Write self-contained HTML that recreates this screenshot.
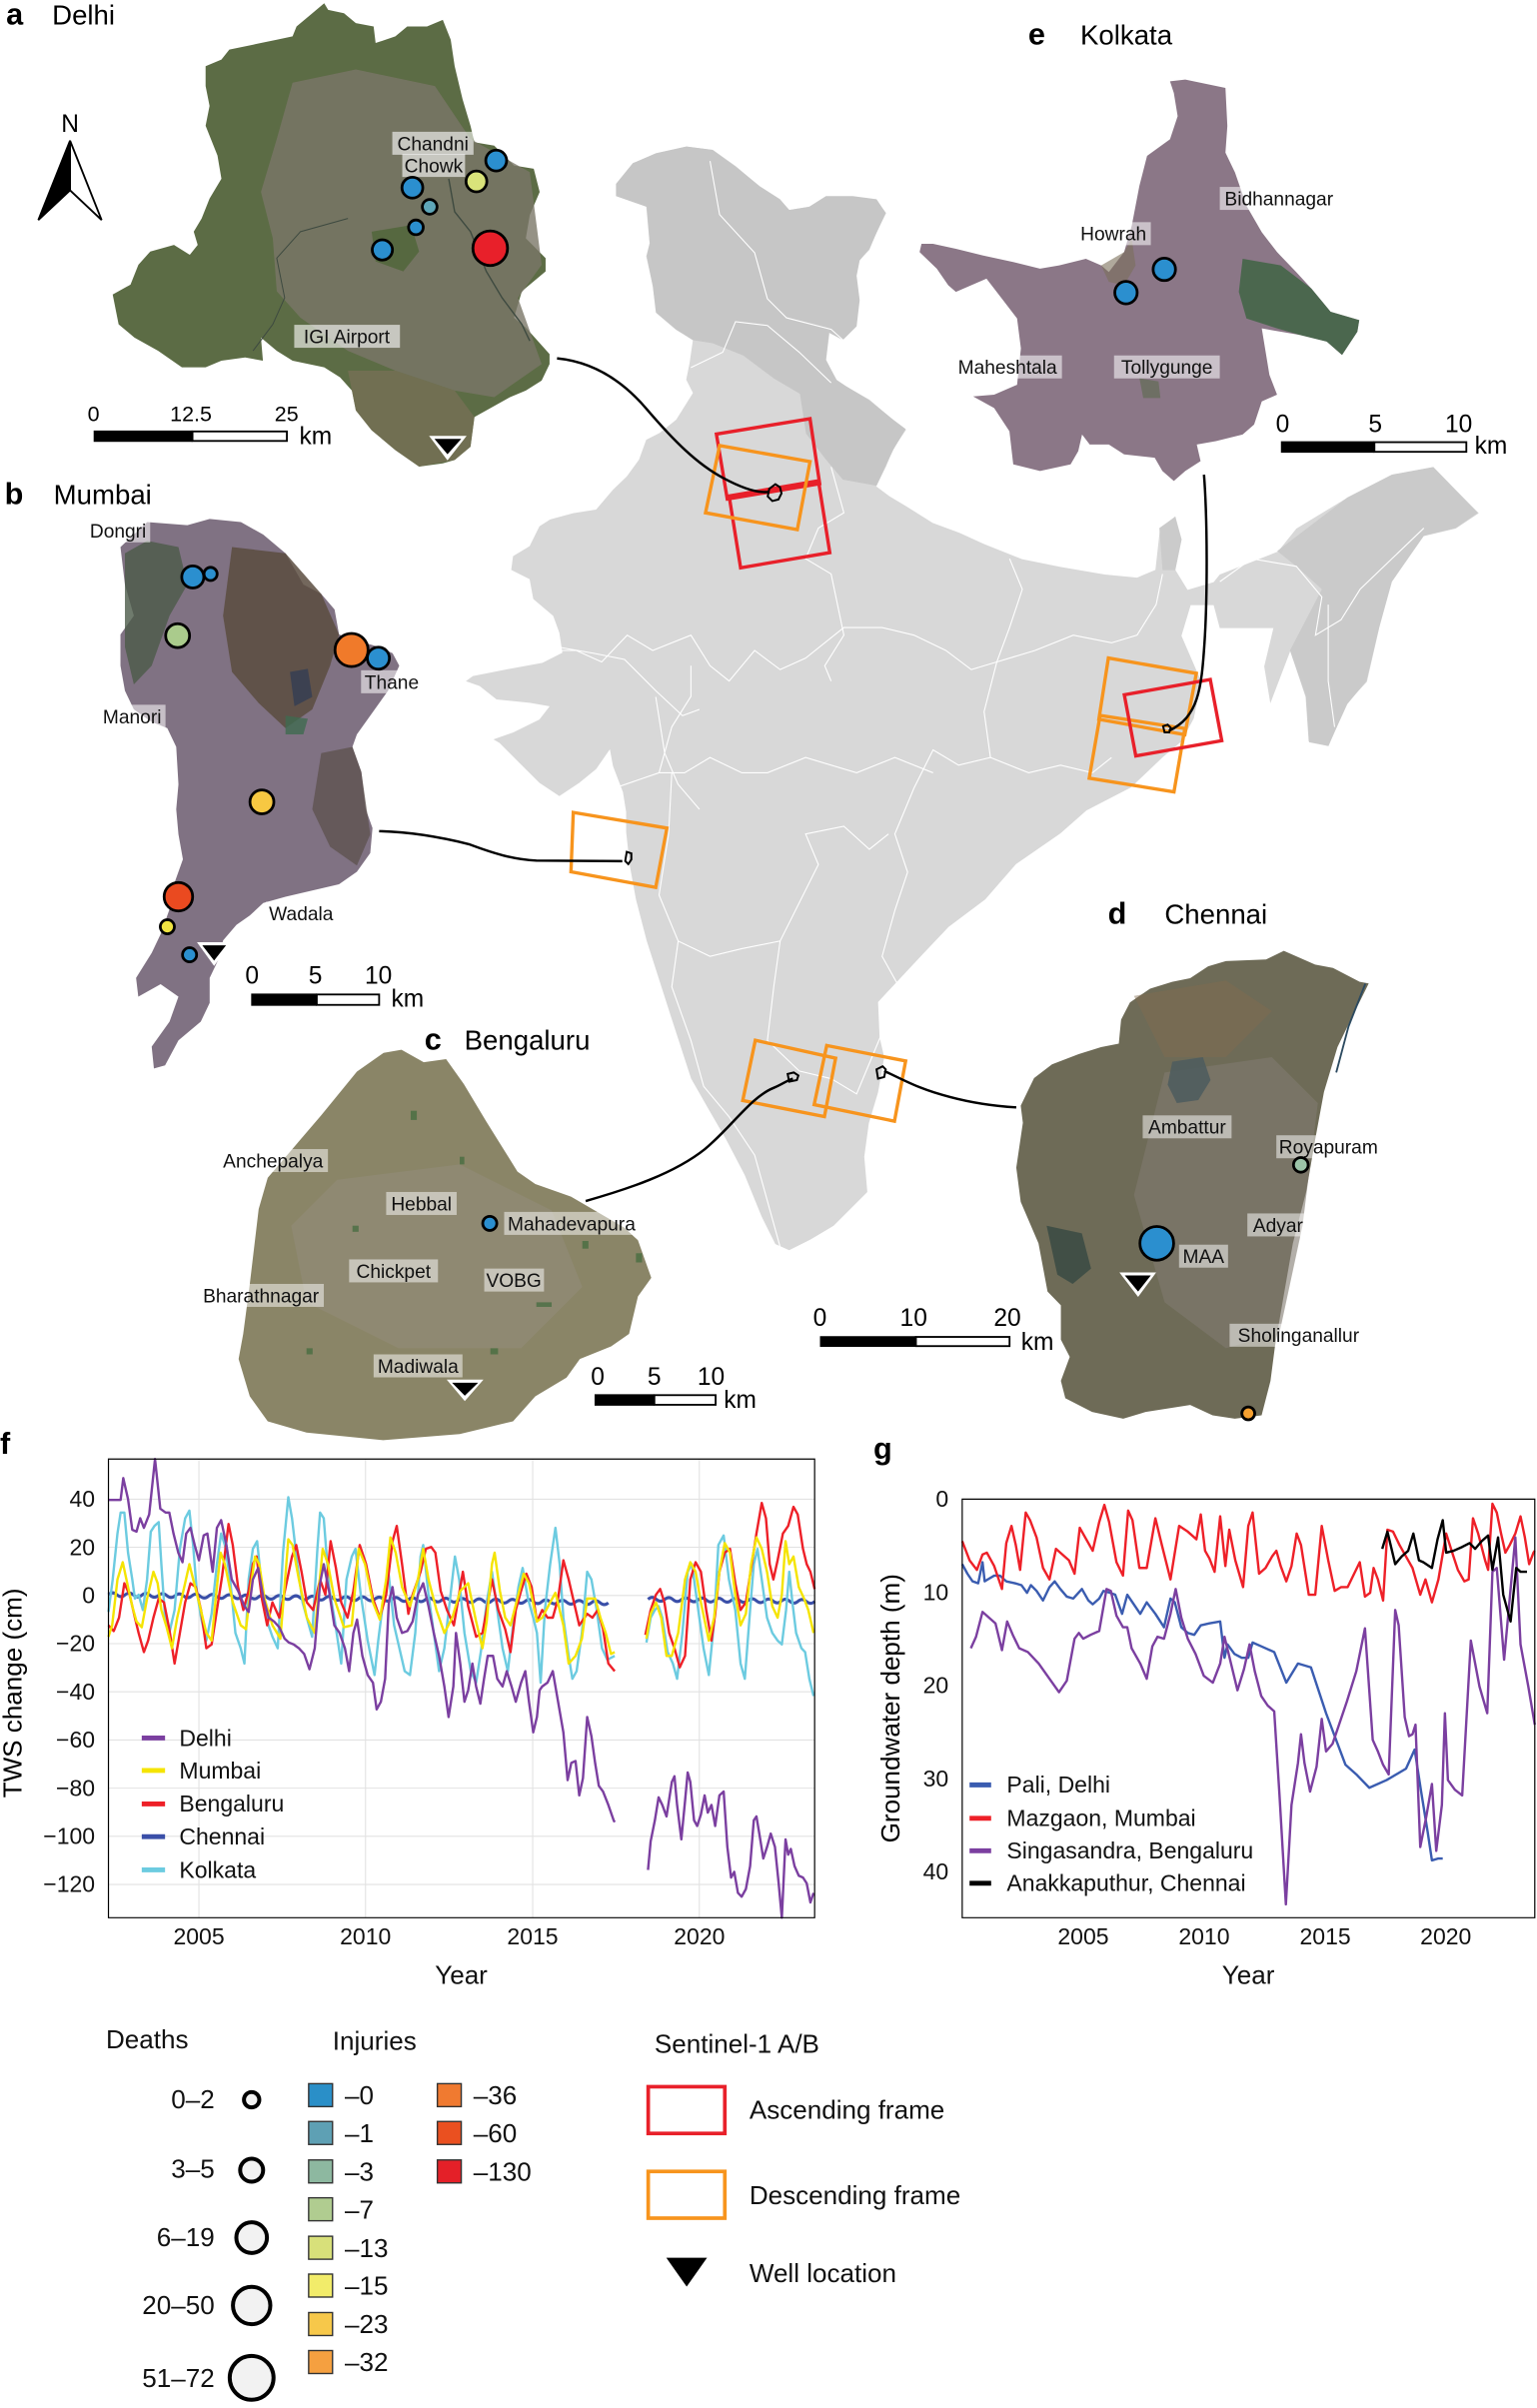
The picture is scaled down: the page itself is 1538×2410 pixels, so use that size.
<!DOCTYPE html>
<html><head><meta charset="utf-8"><style>html,body{margin:0;padding:0;background:#fff}svg{display:block}</style></head>
<body>
<svg xmlns="http://www.w3.org/2000/svg" width="1538" height="2410" viewBox="0 0 1003 1571.7" font-family="Liberation Sans, Arial, sans-serif">
<rect x="0" y="0" width="1003" height="1571.7" fill="#fff"/>

<!-- ================= INDIA ================= -->
<polygon fill="#d8d8d8" points="402,120 413,106.5 428.3,100 447.8,95.6 465.2,97.8 480.4,108.7 495.7,121.7 508.7,130.4 515.2,137 528.3,134.8 539.1,128.2 556.5,128.2 571.8,130.4 578.3,139.1 571.8,152.2 567.4,163 560.9,169.6 558.7,180.4 560.9,195.6 558.7,213 550,221.7 541.3,217.4 539.1,234.8 545.7,247.8 552.2,252.2 567.4,260.9 582.6,273.9 591.3,280.4 582.6,293.5 578.3,304.3 571.8,317.4 580.4,323.9 591.3,330.4 608.7,341.3 626.1,347.8 642,355 667,365 692,370 721,375 742,377 754,372 757,345 767,337 771,352 767,372 775,385 792,380 796,375 834,360 846,345 879,325 908,310 935,305 965,335 950,345 929,350 908,380 900,410 892,445 879,459 867,487 854,484 852,455 842,425 829,459 825,435 831,410 815,410 796,410 792,395 777,395 771,415 784,445 779,469 771,484 759,494 738,514 709,529 692,544 663,564 643,587 619,605 602,623 587,639 573,654 574,677 577,690 573,713 567,733 564,755 566,778 555,789 544,800 529,809 515,816 506,812 497,794 486,767 474,744 463,725 451,704 438,664 422,614 415,587 411,565 408.6,543 408.6,530 406.5,517 400,500 398,489 389,502 378,511 365,519.6 352,511 339,498 326,485 322,482.6 335,478 352,469.6 358.7,461 345.6,458.7 324,456.5 313,447.8 304,444.6 308.6,441.3 330,437 354,432.6 367,426 365,413 361,402 348,391 345.6,378 333.6,372 334.8,363 345.6,356.5 352,343.5 359,339 374,335 389,332.6 400,319.6 409,311 417,300 421.7,287 430.4,282.6 441.3,273.9 452.2,256.5 447.8,247.8 450,237 452.2,221.7 441.3,215.4 428.3,204.3 426.1,187 421.7,167.4 423.9,158.7 421.7,134.8 402,128"/>
<!-- hillshade darker areas -->
<polygon fill="#c6c6c6" points="402,120 413,106.5 428,100 448,95.6 465,97.8 480,108.7 496,121.7 509,130 515,137 528,135 539,128 556.5,128 572,130 578,139 572,152 567,163 561,170 559,180 561,196 559,213 550,222 541,217 539,235 546,248 552,252 567,261 583,274 591,280 583,293.5 578,304 572,317 550,313 539,300 526,283 522,257 505,247 485,232 465,224 452,222 441,215 428,204 426,187 422,167 424,159 422,135 402,128"/>
<g transform="translate(326.1,65.2) scale(0.4159,0.4991)">
<polygon fill="#cacaca" points="1220,590 1330,520 1400,490 1465,480 1535,540 1500,560 1450,570 1400,630 1380,690 1360,760 1330,790 1300,845 1270,840 1265,780 1240,720 1290,640 1250,610"/>
<polygon fill="#cbcbcb" points="1035,560 1060,545 1070,575 1060,615 1040,615"/>
<g fill="none" stroke="#fff" stroke-width="1.1">
<polyline vector-effect="non-scaling-stroke" points="330,80 345,150 400,200 420,260 450,285 520,300 560,330"/>
<polyline vector-effect="non-scaling-stroke" points="300,350 350,330 370,290 420,295 470,330 520,370"/>
<polyline vector-effect="non-scaling-stroke" points="520,480 540,540 500,560 480,600 520,620 540,700 510,740 520,760"/>
<polyline vector-effect="non-scaling-stroke" points="0,745 60,720 120,720 160,735 200,700 240,720 300,700 330,740 360,760 400,720 440,745 480,730 540,690 600,690 650,700 700,720 740,745 780,735 800,690 820,640 800,600"/>
<polyline vector-effect="non-scaling-stroke" points="780,735 760,800 770,860 720,870 680,850 650,900 620,960 640,1010 620,1060 600,1120 640,1180 640,1250"/>
<polyline vector-effect="non-scaling-stroke" points="110,920 180,900 250,880 270,820 300,780 300,740"/>
<polyline vector-effect="non-scaling-stroke" points="250,880 290,880 330,860 380,880 420,880 480,860 560,880 620,860 680,880"/>
<polyline vector-effect="non-scaling-stroke" points="780,735 840,720 900,700 960,710 1000,700 1030,660 1040,620"/>
<polyline vector-effect="non-scaling-stroke" points="770,860 830,880 880,870 930,880 960,860"/>
<polyline vector-effect="non-scaling-stroke" points="270,880 265,960 250,1040 280,1100 330,1120 380,1110 440,1100 470,1050 500,1000 480,960 540,950 580,980 610,960"/>
<polyline vector-effect="non-scaling-stroke" points="280,1100 270,1160 300,1230 320,1290 360,1330 400,1380 420,1440 440,1500"/>
<polyline vector-effect="non-scaling-stroke" points="440,1100 430,1160 420,1230 470,1270 520,1280 560,1300 580,1260 600,1220"/>
<polyline vector-effect="non-scaling-stroke" points="1130,630 1180,600 1250,610 1290,650 1280,700 1320,680 1350,640 1400,600 1450,560"/>
<polyline vector-effect="non-scaling-stroke" points="1300,660 1300,760 1310,820"/>
</g>
</g>
<g transform="translate(0,300) scale(0.2911,0.4076)" fill="none" stroke="#fff" stroke-width="1.1">
<polyline vector-effect="non-scaling-stroke" points="1150,300 1250,300 1330,310 1400,320 1470,370 1530,410 1568,400"/>
<polyline vector-effect="non-scaling-stroke" points="1470,380 1490,470 1520,520 1568,560"/>
</g>

<!-- Sentinel frames -->
<g fill="none" stroke-width="2.2">
<polygon stroke="#e8202a" points="467.5,283.3 528.6,273.3 534.9,315.7 474.6,325.7"/>
<polygon stroke="#e8202a" points="475.8,323.7 534.1,313.8 541.5,360.7 483.3,370.6"/>
<polygon stroke="#f7941d" points="469.6,290.8 528.6,301.3 520.3,345.7 460.4,334.7"/>
<polygon stroke="#f7941d" points="374.1,530.3 435.2,540.5 427.9,579.2 372.6,569"/>
<polygon stroke="#f7941d" points="723.3,429.5 780.7,439.5 773.2,479.5 717.1,469.5"/>
<polygon stroke="#f7941d" points="717.9,467 773.2,475.5 766.1,516.9 710.8,507.9"/>
<polygon stroke="#e8202a" points="733.7,453.5 789.8,443.5 797.3,483.4 741.2,493.4"/>
<polygon stroke="#f7941d" points="492.9,679 545.3,690.7 538,728.8 484.7,718.3"/>
<polygon stroke="#f7941d" points="539.5,682.4 591,692.5 583.7,731.8 531.3,721"/>
</g>
<!-- tiny city outlines -->
<g fill="none" stroke="#000" stroke-width="1.3">
<path d="M502,319 l4,-3 3,2 1,4 -2,4 -4,1 -3,-3z"/>
<path d="M409,556 l3,1 0,4 -2,3 -2,-2z"/>
<path d="M759,474 l3,-1 2,2 -1,3 -3,0z"/>
<path d="M514,701 l4,-1 3,2 -1,3 -5,1z"/>
<path d="M572,698 l4,-2 2,2 -1,5 -4,1z"/>
</g>
<!-- connectors -->
<g fill="none" stroke="#000" stroke-width="1.6">
<path d="M363.5,233.9 C385,236 405,247 422,267 C440,288 455,303 472,312 C485,319 495,322 502,321"/>
<path d="M785.7,309.8 C788,340 788,390 786,420 C784,450 782,468 762.8,477"/>
<path d="M247.4,542.5 C270,543 290,547 306,551 C322,557 335,561 350,561.7 L406.1,562.1"/>
<path d="M382.2,783.9 C410,776 440,766 460,750 C478,735 490,716 505,710 C510,708 514,705 517.4,704"/>
<path d="M577,699 C590,705 600,711 620,716 C635,720 650,722 663.2,722.8"/>
</g>

<!-- ================= DELHI ================= -->
<g transform="scale(0.258,0.216)">
<polygon fill="#5c6c45" points="820,10 830,30 870,40 900,70 945,80 950,130 1000,110 1030,80 1080,80 1120,60 1140,120 1150,200 1170,300 1190,380 1200,430 1250,440 1300,500 1350,510 1365,580 1340,650 1330,720 1380,780 1380,820 1320,880 1300,960 1330,990 1390,1070 1390,1100 1370,1150 1330,1180 1290,1200 1200,1260 1190,1350 1150,1390 1120,1400 1060,1410 1000,1360 940,1300 900,1240 890,1180 860,1140 820,1110 740,1090 700,1060 660,1020 665,1090 620,1080 560,1090 520,1110 460,1110 400,1060 340,1020 300,980 285,890 330,860 350,800 380,760 440,740 480,770 500,740 490,700 510,660 530,600 560,540 550,470 520,380 530,320 520,260 520,200 560,180 580,150 620,140 660,130 700,120 740,110 750,80 790,40"/>
<polygon fill="#7b7768" opacity="0.8" points="740,250 900,210 1100,260 1190,420 1340,520 1370,800 1310,900 1370,1100 1250,1200 1150,1180 1000,1120 880,1060 760,960 700,880 690,720 660,580 700,420"/>
<polygon fill="#777055" opacity="0.8" points="880,1120 1000,1120 1150,1180 1200,1260 1190,1350 1150,1390 1060,1410 1000,1360 940,1300 900,1240"/>
<polygon fill="#4f6538" opacity="0.8" points="940,700 1040,680 1060,760 1020,820 950,790"/>
<polyline fill="none" stroke="#3e4a40" stroke-width="1.4" vector-effect="non-scaling-stroke" points="1135,540 1150,640 1190,700 1230,820 1270,900 1320,980 1340,1030"/>
<polyline fill="none" stroke="#3e4a40" stroke-width="1" vector-effect="non-scaling-stroke" points="640,1060 690,980 720,900 700,780 760,700 880,660"/>
</g>
<!-- Delhi labels -->
<g font-size="12.5" text-anchor="middle" fill="#111">
<rect x="256" y="86" width="53" height="15" fill="#fff" opacity="0.6"/><text x="282.5" y="98">Chandni</text>
<rect x="262.5" y="100.5" width="41" height="15" fill="#fff" opacity="0.6"/><text x="283" y="112.5">Chowk</text>
<rect x="192" y="212" width="69" height="15" fill="#fff" opacity="0.6"/><text x="226.3" y="224">IGI Airport</text>
</g>
<g stroke="#000" stroke-width="1.8">
<circle cx="323.8" cy="104.8" r="6.8" fill="#2b8fcf"/>
<circle cx="310.9" cy="118.4" r="6.8" fill="#d9e37a"/>
<circle cx="269.1" cy="122.5" r="6.8" fill="#2b8fcf"/>
<circle cx="280.4" cy="135" r="4.8" fill="#5ea6b8"/>
<circle cx="271.4" cy="148.4" r="4.8" fill="#2b8fcf"/>
<circle cx="249.5" cy="163.1" r="6.6" fill="#2b8fcf"/>
<circle cx="319.9" cy="162" r="11.3" fill="#e8202a"/>
</g>
<polygon points="280,284.5 304.5,284.5 292,300.5" fill="#fff"/>
<polygon points="283.5,286.5 301,286.5 292,296.5" fill="#000"/>
<!-- north arrow -->
<text x="45.7" y="86" font-size="16" text-anchor="middle">N</text>
<polygon points="45.7,91.8 25,143.6 45.7,124.2" fill="#000" stroke="#000" stroke-width="1.2"/>
<polygon points="45.7,91.8 66.3,143.6 45.7,124.2" fill="#fff" stroke="#000" stroke-width="1.2"/>
<!-- Delhi scale -->
<g font-size="14" text-anchor="middle">
<text x="61" y="275">0</text><text x="124.6" y="275">12.5</text><text x="187" y="275">25</text>
<text x="206" y="290" text-anchor="middle" font-size="16">km</text>
</g>
<rect x="61.1" y="281" width="64.5" height="7.4" fill="#000"/>
<rect x="125.6" y="281.6" width="61.6" height="6.2" fill="#fff" stroke="#000" stroke-width="1.2"/>
<text x="4" y="16" font-size="20" font-weight="bold">a</text>
<text x="34" y="16" font-size="18">Delhi</text>

<!-- ================= KOLKATA ================= -->
<g transform="translate(573.9,0) scale(0.2495,0.2165)">
<polygon fill="#8b7787" points="760,245 800,240 905,265 910,380 905,460 930,520 960,620 1000,700 1040,760 1090,820 1130,870 1180,940 1255,965 1250,1000 1210,1070 1170,1030 1100,1010 1050,1000 1000,990 1010,1060 1020,1130 1040,1190 1000,1210 980,1280 950,1310 880,1330 830,1340 840,1390 800,1420 770,1450 740,1420 720,1380 640,1370 600,1340 550,1340 530,1310 520,1360 500,1400 420,1420 350,1400 340,1300 300,1230 245,1195 300,1190 360,1160 370,1050 360,960 320,900 280,840 200,880 180,860 150,810 105,760 110,735 140,735 200,750 270,770 350,790 420,810 470,800 540,780 580,800 600,820 640,760 660,680 680,560 700,470 760,420 780,350 770,280"/>
<polygon fill="#3f6444" opacity="0.85" points="950,780 1050,800 1130,870 1180,940 1255,965 1250,1000 1210,1070 1170,1030 1100,1010 1040,990 960,960 940,880"/>
<polygon fill="#7c705a" opacity="0.6" points="580,800 640,760 660,720 670,800 640,860 600,850"/>
<polygon fill="#5b6b4c" opacity="0.6" points="680,1140 730,1150 735,1200 690,1200"/>
</g>
<g font-size="12.5" text-anchor="middle" fill="#111">
<rect x="796" y="122" width="77" height="15" fill="#fff" opacity="0.55"/><text x="834.6" y="134">Bidhannagar</text>
<rect x="703" y="145" width="48" height="15" fill="#fff" opacity="0.55"/><text x="726.6" y="157">Howrah</text>
<rect x="622" y="232" width="71" height="15" fill="#fff" opacity="0.55"/><text x="657.5" y="244">Maheshtala</text>
<rect x="727" y="232" width="69" height="15" fill="#fff" opacity="0.55"/><text x="761.5" y="244">Tollygunge</text>
</g>
<g stroke="#000" stroke-width="1.8" fill="#2b8fcf">
<circle cx="759.8" cy="175.8" r="7.3"/>
<circle cx="734.8" cy="191" r="7.3"/>
</g>
<g font-size="16" text-anchor="middle">
<text x="837" y="282">0</text><text x="897.5" y="282">5</text><text x="951.9" y="282">10</text>
<text x="973" y="296">km</text>
</g>
<rect x="835.9" y="288" width="61" height="7.5" fill="#000"/>
<rect x="896.9" y="288.6" width="60" height="6.3" fill="#fff" stroke="#000" stroke-width="1.2"/>
<text x="671" y="29" font-size="20" font-weight="bold">e</text>
<text x="705" y="29" font-size="18">Kolkata</text>

<!-- ================= MUMBAI ================= -->
<g transform="translate(0,300) scale(0.2911,0.4076)">
<polygon fill="#807283" points="330,100 420,105 470,95 540,100 590,120 640,150 680,200 720,215 750,240 760,280 800,290 850,300 880,310 895,330 870,370 840,400 800,440 790,460 810,500 820,560 835,590 830,630 800,660 760,680 700,690 640,700 590,710 560,730 530,745 500,770 490,800 470,830 470,870 450,900 400,930 370,970 345,975 340,940 380,900 400,860 360,840 310,860 305,830 340,790 360,760 380,720 390,680 410,640 400,600 395,560 400,520 395,460 375,430 340,420 300,400 280,370 270,330 270,280 300,250 280,200 270,140 300,120"/>
<polygon fill="#5a4c40" opacity="0.85" points="520,140 640,150 720,215 760,280 740,330 700,400 640,430 580,390 520,340 500,250"/>
<polygon fill="#4b5a48" opacity="0.8" points="280,150 330,130 400,140 420,200 380,250 340,330 300,360 280,300"/>
<polygon fill="#2e3a55" opacity="0.7" points="650,340 690,335 700,380 660,395"/>
<polygon fill="#5a4e48" opacity="0.7" points="720,470 790,460 810,500 830,600 800,650 740,620 700,560"/>
<polygon fill="#3f6a50" opacity="0.8" points="640,410 690,415 680,440 640,440"/>
</g>
<g font-size="12.5" text-anchor="middle" fill="#111">
<rect x="56" y="339" width="42" height="15" fill="#fff" opacity="0.55"/><text x="77" y="351">Dongri</text>
<rect x="235.6" y="437.5" width="40" height="15" fill="#fff" opacity="0.55"/><text x="255.6" y="449.5">Thane</text>
<rect x="64" y="460" width="44" height="15" fill="#fff" opacity="0.55"/><text x="86.2" y="472">Manori</text>
<rect x="173.5" y="588.5" width="46" height="15" fill="#fff" opacity="0.55"/><text x="196.5" y="600.5">Wadala</text>
</g>
<g stroke="#000" stroke-width="1.8">
<circle cx="125.8" cy="376.6" r="7.2" fill="#2b8fcf"/>
<circle cx="137.4" cy="374.6" r="4.3" fill="#2b8fcf"/>
<circle cx="115.9" cy="414.9" r="7.8" fill="#aacb8c"/>
<circle cx="229.4" cy="424.3" r="10.8" fill="#f07a2a"/>
<circle cx="246.9" cy="429.6" r="7.2" fill="#2b8fcf"/>
<circle cx="170.9" cy="523.4" r="7.8" fill="#f7c842"/>
<circle cx="116.4" cy="585.3" r="9.3" fill="#ea4a20"/>
<circle cx="109.2" cy="604.9" r="4.6" fill="#f0e442"/>
<circle cx="123.7" cy="623.2" r="4.6" fill="#2b8fcf"/>
</g>
<polygon points="128.5,615 151,615 139.7,630.5" fill="#fff"/>
<polygon points="132,617 147.5,617 139.7,627" fill="#000"/>
<g font-size="16" text-anchor="middle">
<text x="164.5" y="642">0</text><text x="205.8" y="642">5</text><text x="246.9" y="642">10</text>
<text x="266" y="657">km</text>
</g>
<rect x="163.9" y="648.5" width="42.8" height="8" fill="#000"/>
<rect x="206.7" y="649.1" width="40.7" height="6.8" fill="#fff" stroke="#000" stroke-width="1.2"/>
<text x="3" y="329" font-size="20" font-weight="bold">b</text>
<text x="35" y="329" font-size="18">Mumbai</text>

<!-- ================= BENGALURU ================= -->
<polygon fill="#8a8567" points="250.3,687.2 262,685.2 276.5,693.3 291.1,691.3 302.7,707.6 317.3,732 337.7,764.7 349.3,772.8 372.6,781 407.5,801.3 416.3,809.5 425,834 416.3,846.2 410.5,870.6 398.8,878.8 378.4,887 369.7,899.2 349.3,911.4 334.8,927.7 300,936 250,940 200,935 174.7,927.7 163,911.4 155.7,887 158.7,870.6 163,838 165.9,813.6 168.8,789.1 174.7,768.7 192.1,748.4 209.6,728 232.9,699.4"/>
<polygon fill="#9a958a" opacity="0.3" points="220,770 300,760 360,790 380,840 340,880 260,880 200,850 190,800"/>
<g fill="#3f6a3c" opacity="0.7">
<rect x="268" y="725" width="4" height="6"/><rect x="300" y="755" width="3" height="5"/><rect x="230" y="800" width="4" height="4"/><rect x="350" y="850" width="10" height="3"/><rect x="380" y="810" width="4" height="5"/><rect x="320" y="880" width="5" height="4"/><rect x="200" y="880" width="4" height="4"/><rect x="415" y="818" width="4" height="6"/>
</g>
<g font-size="12.5" text-anchor="middle" fill="#111">
<rect x="142" y="750" width="72" height="15" fill="#fff" opacity="0.5"/><text x="178.2" y="762">Anchepalya</text>
<rect x="252" y="778" width="46" height="15" fill="#fff" opacity="0.5"/><text x="275" y="790">Hebbal</text>
<rect x="329" y="791" width="88" height="15" fill="#fff" opacity="0.5"/><text x="373" y="803">Mahadevapura</text>
<rect x="227.8" y="822" width="58" height="15" fill="#fff" opacity="0.5"/><text x="256.8" y="834">Chickpet</text>
<rect x="316" y="828" width="39" height="15" fill="#fff" opacity="0.5"/><text x="335.3" y="840">VOBG</text>
<rect x="129.3" y="838" width="82" height="15" fill="#fff" opacity="0.5"/><text x="170.3" y="850">Bharathnagar</text>
<rect x="243.8" y="884" width="58" height="15" fill="#fff" opacity="0.5"/><text x="272.8" y="896">Madiwala</text>
</g>
<circle cx="319.6" cy="798.5" r="4.6" fill="#2b8fcf" stroke="#000" stroke-width="1.8"/>
<polygon points="291.5,900.5 315.5,900.5 303.3,914.5" fill="#fff"/>
<polygon points="295,902.5 312,902.5 303.3,911" fill="#000"/>
<g font-size="16" text-anchor="middle">
<text x="390" y="904">0</text><text x="427" y="904">5</text><text x="464" y="904">10</text>
<text x="483" y="919">km</text>
</g>
<rect x="388" y="910" width="39" height="7.5" fill="#000"/>
<rect x="427" y="910.6" width="40" height="6.3" fill="#fff" stroke="#000" stroke-width="1.2"/>
<text x="277" y="685" font-size="20" font-weight="bold">c</text>
<text x="303" y="685" font-size="18">Bengaluru</text>

<!-- ================= CHENNAI ================= -->
<polygon fill="#6e6b57" points="800,627.3 826.2,626.2 837.8,620.6 858.2,629.6 869.9,631.8 887.3,640.8 893.2,641.9 881.5,665.5 872.8,683.5 864,712.7 858.2,744.1 852.4,777.8 843.7,811.5 837.8,845.2 832,878.9 829.1,901.3 823.3,923.8 805.8,926 791.3,923.8 776.7,917 747.6,921.6 733,926 712.7,921.6 695.2,912.6 692.3,901.3 698.1,885.6 692.3,874.4 692.3,852 683.6,843 677.7,811.5 671.9,798 666.1,784.5 663.2,762.1 667.5,732.9 666.1,721.7 674.8,703.7 686.5,694.7 703.9,688 718.5,683.5 730.1,681.2 731.6,665.5 737.4,654.3 750.5,645.3 765,640.8 776.7,638.5 788.4,630.7"/>
<polygon fill="#807a70" opacity="0.6" points="760,700 830,690 860,720 850,800 835,870 800,880 760,850 740,780"/>
<polygon fill="#826c50" opacity="0.45" points="740,650 800,640 830,660 800,690 760,690"/>
<polygon fill="#4f5d5e" opacity="0.9" points="765,693 785,690 790,705 782,718 768,720 762,708"/>
<polygon fill="#3c4d45" opacity="0.9" points="683,800 706,805 712,828 700,838 690,832"/>
<polyline fill="none" stroke="#2c4a60" stroke-width="1.2" points="891,642 880,670 872,700"/>
<g font-size="12.5" text-anchor="middle" fill="#111">
<rect x="745.7" y="728" width="58" height="15" fill="#fff" opacity="0.5"/><text x="774.7" y="740">Ambattur</text>
<rect x="832.9" y="741" width="68" height="15" fill="#fff" opacity="0.5"/><text x="866.9" y="753">Royapuram</text>
<rect x="814" y="792" width="40" height="15" fill="#fff" opacity="0.5"/><text x="834" y="804">Adyar</text>
<rect x="769.4" y="812.4" width="32" height="15" fill="#fff" opacity="0.5"/><text x="785.4" y="824.4">MAA</text>
<rect x="802.4" y="864" width="90" height="15" fill="#fff" opacity="0.5"/><text x="847.4" y="876">Sholinganallur</text>
</g>
<g stroke="#000" stroke-width="1.8">
<circle cx="848.9" cy="760.3" r="4.8" fill="#9cc4a8"/>
<circle cx="754.9" cy="811.5" r="11" fill="#2b8fcf"/>
<circle cx="814.6" cy="922.5" r="4.2" fill="#f5a030"/>
</g>
<polygon points="730.5,830.5 754.5,830.5 742.7,846.5" fill="#fff"/>
<polygon points="734,832.5 751,832.5 742.7,843" fill="#000"/>
<g font-size="16" text-anchor="middle">
<text x="535.1" y="865.5">0</text><text x="596.2" y="865.5">10</text><text x="657.4" y="865.5">20</text>
<text x="677" y="881">km</text>
</g>
<rect x="535.1" y="872.1" width="62.6" height="7" fill="#000"/>
<rect x="597.7" y="872.6" width="61.1" height="6" fill="#fff" stroke="#000" stroke-width="1.2"/>
<text x="723" y="603" font-size="20" font-weight="bold">d</text>
<text x="760" y="603" font-size="18">Chennai</text>

<!-- ================= CHART f ================= -->
<text x="0" y="949" font-size="20" font-weight="bold">f</text>
<g transform="translate(0,926.1) scale(0.3452,0.2495)">
<g stroke="#e2e2e2" stroke-width="1.1" fill="none">
<path vector-effect="non-scaling-stroke" d="M205,210H1540M205,336H1540M205,462H1540M205,588H1540M205,714H1540M205,840H1540M205,966H1540M205,1092H1540M205,1218H1540M376,105V1305M691,105V1305M1007,105V1305M1322,105V1305"/>
</g>
<g fill="none" stroke-width="2.4" stroke-linejoin="round">
<path vector-effect="non-scaling-stroke" stroke="#3a4fa8" stroke-width="3" d="M205,460 q7.9,-10 15.75,0 t15.75,0.36 t15.75,0.36 t15.75,0.36 t15.75,0.36 t15.75,0.36 t15.75,0.36 t15.75,0.36 t15.75,0.36 t15.75,0.36 t15.75,0.36 t15.75,0.36 t15.75,0.36 t15.75,0.36 t15.75,0.36 t15.75,0.36 t15.75,0.36 t15.75,0.36 t15.75,0.36 t15.75,0.36 t15.75,0.36 t15.75,0.36 t15.75,0.36 t15.75,0.36 t15.75,0.36 t15.75,0.36 t15.75,0.36 t15.75,0.36 t15.75,0.36 t15.75,0.36 t15.75,0.36 t15.75,0.36 t15.75,0.36 t15.75,0.36 t15.75,0.36 t15.75,0.36 t15.75,0.36 t15.75,0.36 t15.75,0.36 t15.75,0.36 t15.75,0.36 t15.75,0.36 t15.75,0.36 t15.75,0.36 t15.75,0.36 t15.75,0.36 t15.75,0.36 t15.75,0.36 t15.75,0.36 t15.75,0.36 t15.75,0.36 t15.75,0.36 t15.75,0.36 t15.75,0.36 t15.75,0.36 t15.75,0.36 t15.75,0.36 t15.75,0.36 t15.75,0.36 t15.75,0.36 M1225,472 q7.9,-10 15.75,0 t15.75,0.3 t15.75,0.3 t15.75,0.3 t15.75,0.3 t15.75,0.3 t15.75,0.3 t15.75,0.3 t15.75,0.3 t15.75,0.3 t15.75,0.3 t15.75,0.3 t15.75,0.3 t15.75,0.3 t15.75,0.3 t15.75,0.3 t15.75,0.3 t15.75,0.3 t15.75,0.3 t15.75,0.3"/>
<polyline vector-effect="non-scaling-stroke" stroke="#6ccbe0" points="205,505 213,420 222,300 228,245 235,245 242,350 250,420 255,470 262,460 270,500 278,420 285,295 292,280 300,270 305,380 312,520 320,560 330,500 340,340 350,260 358,240 365,330 372,450 380,520 390,580 400,510 410,380 418,300 425,330 435,420 445,560 455,600 462,640 470,420 478,340 486,320 495,440 505,530 515,570 525,600 535,350 545,205 552,260 562,380 572,480 580,520 590,570 600,340 605,245 612,260 622,440 632,520 645,640 655,420 665,360 672,340 682,460 695,580 708,670 715,580 725,470 735,410 745,540 755,600 765,660 775,670 785,560 795,360 800,330 810,460 820,560 830,660 840,600 850,480 860,360 868,420 878,560 890,660 900,690 910,600 920,480 930,400 940,500 950,600 960,660 970,540 980,440 988,390 998,470 1008,520 1015,560 1022,690 1030,500 1040,380 1050,285 1058,380 1065,520 1075,620 1082,680 1090,660 1100,560 1110,400 1118,420 1128,500 1138,600 1148,630 1155,625 1162,620"/>
<polyline vector-effect="non-scaling-stroke" stroke="#6ccbe0" points="1222,585 1230,520 1238,500 1245,490 1252,520 1262,610 1272,640 1280,680 1290,560 1300,400 1308,380 1320,500 1330,600 1340,670 1350,530 1358,330 1368,305 1378,420 1390,500 1400,640 1408,680 1418,500 1425,380 1432,340 1440,420 1450,520 1460,560 1470,580 1478,590 1486,500 1492,400 1498,480 1505,560 1515,600 1522,610 1530,680 1538,725"/>
<polyline vector-effect="non-scaling-stroke" stroke="#ee2028" points="205,540 215,555 225,520 235,430 245,460 255,520 262,560 272,610 280,580 290,520 300,470 310,480 320,550 330,640 340,560 350,480 360,430 370,440 380,500 390,600 400,590 410,500 420,410 432,275 440,330 450,440 460,500 470,450 478,380 485,360 495,470 505,540 515,480 528,520 540,440 552,360 560,330 570,400 580,480 592,500 605,420 615,460 625,320 635,390 645,480 657,520 668,450 680,330 692,380 705,470 718,520 730,460 742,320 750,280 760,380 772,510 780,460 795,400 805,340 815,335 823,350 833,450 845,500 858,540 870,440 875,400 885,490 900,570 912,560 920,500 930,420 942,500 955,550 965,610 975,500 985,450 995,405 1005,440 1015,530 1025,500 1035,520 1045,520 1055,470 1065,370 1075,420 1085,480 1095,540 1110,510 1120,520 1130,500 1140,550 1150,640 1162,660"/>
<polyline vector-effect="non-scaling-stroke" stroke="#ee2028" points="1220,565 1230,500 1240,460 1248,445 1256,480 1265,560 1275,600 1285,650 1295,620 1305,420 1315,375 1325,400 1335,500 1345,580 1352,510 1360,400 1370,350 1380,340 1390,430 1400,500 1410,480 1420,390 1430,300 1440,220 1448,260 1455,380 1462,420 1470,370 1480,300 1490,280 1500,230 1508,250 1518,340 1525,380 1532,400 1540,445"/>
<polyline vector-effect="non-scaling-stroke" stroke="#f5e400" points="205,570 212,540 222,420 232,375 242,440 250,490 258,530 268,545 278,470 290,400 298,430 305,500 315,545 325,600 335,520 345,460 358,380 367,430 378,490 390,560 400,580 410,440 417,350 425,380 440,480 455,540 465,550 475,430 482,360 490,380 500,470 515,540 530,575 545,315 553,330 565,420 580,520 595,560 610,340 620,380 632,470 650,545 665,540 678,340 690,380 705,480 718,525 730,420 738,310 748,350 760,440 775,490 790,420 800,340 810,420 825,500 840,560 855,520 870,450 885,430 900,530 912,600 920,530 930,380 935,350 945,450 955,520 965,540 978,470 990,405 1000,430 1015,530 1025,520 1040,480 1050,455 1065,540 1075,640 1088,620 1100,575 1110,470 1125,470 1135,520 1145,560 1155,615 1162,610"/>
<polyline vector-effect="non-scaling-stroke" stroke="#f5e400" points="1222,575 1230,510 1240,480 1250,520 1260,620 1270,620 1282,560 1295,420 1305,375 1315,400 1325,480 1340,580 1350,520 1360,400 1370,325 1380,350 1390,460 1400,540 1410,510 1420,380 1430,310 1440,340 1450,400 1460,490 1470,520 1478,460 1485,320 1492,380 1500,360 1510,440 1520,470 1528,500 1538,560"/>
<polyline vector-effect="non-scaling-stroke" stroke="#7b3fa0" points="205,212 228,212 233,155 242,210 250,290 258,295 265,260 272,285 282,250 293,105 303,235 313,245 320,245 328,300 337,350 345,375 352,300 360,285 368,330 376,370 385,305 392,300 402,400 410,285 418,265 428,330 438,420 450,450 462,490 470,505 478,420 488,390 498,470 508,520 518,530 528,545 538,575 546,585 555,590 565,600 575,615 585,655 595,600 605,430 612,380 622,450 632,540 642,560 652,600 660,660 668,560 675,525 685,620 695,670 705,690 712,760 720,740 728,680 735,480 742,440 750,520 760,560 770,555 780,530 790,460 800,430 810,490 820,560 830,620 840,700 848,780 857,700 862,560 870,640 878,740 885,710 893,640 900,700 908,745 915,680 922,620 932,620 940,680 950,700 958,660 967,700 975,740 985,690 993,660 1000,740 1008,820 1015,780 1020,710 1025,700 1035,690 1045,660 1055,740 1065,820 1073,945 1080,900 1088,895 1095,985 1102,940 1110,780 1118,830 1125,900 1132,960 1140,975 1150,1010 1160,1050 1162,1055"/>
<polyline vector-effect="non-scaling-stroke" stroke="#7b3fa0" points="1225,1180 1230,1105 1238,1050 1245,990 1252,1010 1260,1040 1270,950 1275,935 1280,1010 1288,1100 1295,1000 1300,925 1305,950 1312,1050 1318,1065 1325,1035 1332,985 1338,1030 1345,1010 1352,1065 1360,985 1368,975 1375,1120 1382,1200 1388,1185 1395,1240 1402,1250 1410,1230 1418,1170 1425,1050 1430,1040 1436,1090 1443,1150 1450,1120 1457,1085 1465,1120 1472,1215 1478,1305 1485,1100 1490,1140 1495,1125 1502,1170 1510,1195 1518,1200 1525,1215 1532,1265 1538,1240"/>
</g>
<rect x="205" y="105" width="1335" height="1200" fill="none" stroke="#000" stroke-width="1.2" vector-effect="non-scaling-stroke"/>
</g>
<g font-size="15" text-anchor="end" fill="#111">
<text x="62" y="983.5">40</text><text x="62" y="1015">20</text><text x="62" y="1046.4">0</text><text x="62" y="1077.8">−20</text><text x="62" y="1109.3">−40</text><text x="62" y="1140.7">−60</text><text x="62" y="1172.2">−80</text><text x="62" y="1203.6">−100</text><text x="62" y="1235">−120</text>
</g>
<g font-size="15" text-anchor="middle" fill="#111">
<text x="129.8" y="1269">2005</text><text x="238.5" y="1269">2010</text><text x="347.6" y="1269">2015</text><text x="456.4" y="1269">2020</text>
<text x="301" y="1295" font-size="17">Year</text>
</g>
<text transform="translate(14,1105) rotate(-90)" font-size="17" text-anchor="middle">TWS change (cm)</text>
<g stroke-width="3.2">
<line x1="92.5" y1="1134.4" x2="107.7" y2="1134.4" stroke="#7b3fa0"/>
<line x1="92.5" y1="1155.6" x2="107.7" y2="1155.6" stroke="#f5e400"/>
<line x1="92.5" y1="1177.4" x2="107.7" y2="1177.4" stroke="#ee2028"/>
<line x1="92.5" y1="1198.8" x2="107.7" y2="1198.8" stroke="#3a4fa8"/>
<line x1="92.5" y1="1220.5" x2="107.7" y2="1220.5" stroke="#6ccbe0"/>
</g>
<g font-size="15" fill="#111">
<text x="117" y="1139.5">Delhi</text><text x="117" y="1160.7">Mumbai</text><text x="117" y="1182.5">Bengaluru</text><text x="117" y="1203.9">Chennai</text><text x="117" y="1225.6">Kolkata</text>
</g>

<!-- ================= CHART g ================= -->
<text x="570" y="952" font-size="20" font-weight="bold">g</text>
<g transform="translate(560.8,926.1) scale(0.2820,0.2495)">
<g fill="none" stroke-width="2.4" stroke-linejoin="round">
<polyline vector-effect="non-scaling-stroke" stroke="#3a5cb0" points="238,380 250,405 262,425 275,430 285,375 290,425 300,418 312,410 325,410 340,425 360,430 375,435 388,455 397,435 410,450 425,475 440,440 452,425 465,445 480,465 495,470 515,445 530,475 540,485 555,470 565,450 580,455 592,460 608,510 620,460 632,480 650,510 665,480 685,510 705,545 720,470 730,480 745,545 760,560 775,565 790,540 810,535 835,530 845,625 852,590 868,615 885,625 900,625 910,585 930,595 960,610 988,690 1015,640 1045,650 1080,770 1125,905 1150,930 1180,965 1220,945 1265,915 1285,865 1300,975 1315,1080 1325,1155 1340,1150 1350,1150"/>
<polyline vector-effect="non-scaling-stroke" stroke="#ee2028" points="238,320 255,370 272,395 285,355 295,350 312,385 330,445 340,325 352,280 362,330 372,395 385,245 395,265 410,310 425,390 440,420 455,340 470,355 485,370 498,405 510,285 525,315 540,345 555,270 567,225 578,270 595,375 610,410 622,240 632,265 648,390 665,390 685,260 700,330 720,420 740,280 760,295 780,315 790,250 800,345 810,365 822,400 835,255 847,385 856,290 870,370 888,440 900,280 910,245 925,405 940,390 955,360 965,345 975,385 988,425 1000,385 1012,300 1022,330 1040,460 1055,460 1070,280 1085,370 1100,450 1115,440 1130,440 1145,405 1158,375 1170,465 1182,455 1190,390 1200,420 1212,475 1222,290 1235,295 1250,330 1265,360 1280,390 1298,460 1310,420 1325,480 1340,420 1358,300 1372,350 1385,395 1400,425 1410,420 1420,260 1432,300 1448,370 1455,395 1465,222 1475,245 1485,300 1495,350 1505,330 1518,300 1530,255 1540,310 1550,380 1560,350 1563,345"/>
<polyline vector-effect="non-scaling-stroke" stroke="#7b3fa0" points="258,600 270,570 285,505 300,520 315,535 330,605 342,530 355,565 370,600 390,610 415,640 440,680 462,715 480,685 498,575 508,560 518,575 535,565 555,555 572,445 582,450 595,515 610,545 620,545 630,600 650,640 665,680 678,595 690,570 705,575 720,510 732,445 745,520 760,575 778,615 797,672 818,690 835,640 845,570 860,640 875,710 890,655 903,590 915,660 930,725 945,750 960,765 972,980 987,1270 1000,1010 1015,900 1022,825 1030,900 1043,975 1058,910 1070,785 1080,870 1095,850 1110,800 1128,740 1150,660 1170,548 1188,840 1200,870 1212,905 1225,930 1240,500 1248,540 1262,780 1272,830 1280,825 1287,800 1298,1120 1312,1040 1325,955 1335,1130 1348,1010 1355,770 1362,945 1378,970 1395,985 1415,580 1435,700 1453,770 1465,400 1475,390 1492,630 1505,470 1518,310 1530,590 1548,700 1563,800"/>
<polyline vector-effect="non-scaling-stroke" stroke="#000" points="1210,340 1222,295 1240,380 1255,360 1270,345 1282,300 1295,370 1305,375 1325,390 1338,315 1350,265 1358,350 1375,345 1395,335 1412,325 1425,340 1440,320 1455,305 1465,395 1478,310 1490,460 1507,530 1520,390 1530,400 1545,400"/>
</g>
<rect x="238" y="210" width="1325" height="1095" fill="none" stroke="#000" stroke-width="1.2" vector-effect="non-scaling-stroke"/>
</g>
<g font-size="15" text-anchor="end" fill="#111">
<text x="619" y="983.5">0</text><text x="619" y="1044.3">10</text><text x="619" y="1105.1">20</text><text x="619" y="1165.9">30</text><text x="619" y="1226.7">40</text>
</g>
<g font-size="15" text-anchor="middle" fill="#111">
<text x="706.9" y="1269">2005</text><text x="785.8" y="1269">2010</text><text x="864.8" y="1269">2015</text><text x="943.5" y="1269">2020</text>
<text x="814.6" y="1295" font-size="17">Year</text>
</g>
<text transform="translate(587,1115) rotate(-90)" font-size="17" text-anchor="middle">Groundwater depth (m)</text>
<g stroke-width="3.2">
<line x1="632.7" y1="1165" x2="646.8" y2="1165" stroke="#3a5cb0"/>
<line x1="632.7" y1="1186.8" x2="646.8" y2="1186.8" stroke="#ee2028"/>
<line x1="632.7" y1="1208" x2="646.8" y2="1208" stroke="#7b3fa0"/>
<line x1="632.7" y1="1229.2" x2="646.8" y2="1229.2" stroke="#000"/>
</g>
<g font-size="15" fill="#111">
<text x="657" y="1170">Pali, Delhi</text><text x="657" y="1191.8">Mazgaon, Mumbai</text><text x="657" y="1213">Singasandra, Bengaluru</text><text x="657" y="1234.2">Anakkaputhur, Chennai</text>
</g>

<!-- ================= LEGEND ================= -->
<g font-size="17" fill="#111">
<text x="96" y="1337" text-anchor="middle">Deaths</text>
<text x="244.4" y="1338" text-anchor="middle">Injuries</text>
<text x="480.9" y="1340" text-anchor="middle">Sentinel-1 A/B</text>
</g>
<g font-size="17" fill="#111" text-anchor="end">
<text x="140" y="1376">0–2</text>
<text x="140" y="1421.5">3–5</text>
<text x="140" y="1466">6–19</text>
<text x="140" y="1510.5">20–50</text>
<text x="140" y="1558">51–72</text>
</g>
<g fill="#f2f2f2" stroke="#000" stroke-width="2.6">
<circle cx="164.2" cy="1370.5" r="5"/>
<circle cx="164.2" cy="1416.5" r="7.5"/>
<circle cx="164.2" cy="1460.5" r="10"/>
<circle cx="164.2" cy="1504.8" r="12.2"/>
<circle cx="164.2" cy="1552" r="14.3"/>
</g>
<g stroke="#333" stroke-width="0.9">
<rect x="201.4" y="1360" width="15.6" height="15" fill="#2a8fc8"/>
<rect x="201.4" y="1384.7" width="15.6" height="15" fill="#5ea0b4"/>
<rect x="201.4" y="1409.8" width="15.6" height="15" fill="#8db8a0"/>
<rect x="201.4" y="1434.5" width="15.6" height="15" fill="#b0cc90"/>
<rect x="201.4" y="1459.6" width="15.6" height="15" fill="#d8e07a"/>
<rect x="201.4" y="1484.3" width="15.6" height="15" fill="#f2ec6a"/>
<rect x="201.4" y="1509.4" width="15.6" height="15" fill="#f7c84a"/>
<rect x="201.4" y="1534.2" width="15.6" height="15" fill="#f5a040"/>
<rect x="285.4" y="1360" width="15.6" height="15" fill="#f07a30"/>
<rect x="285.4" y="1384.7" width="15.6" height="15" fill="#ea5020"/>
<rect x="285.4" y="1409.8" width="15.6" height="15" fill="#e42028"/>
</g>
<g font-size="17" fill="#111">
<text x="225" y="1373.5">–0</text>
<text x="225" y="1398.2">–1</text>
<text x="225" y="1423.3">–3</text>
<text x="225" y="1448">–7</text>
<text x="225" y="1473.1">–13</text>
<text x="225" y="1497.8">–15</text>
<text x="225" y="1522.9">–23</text>
<text x="225" y="1547.7">–32</text>
<text x="309" y="1373.5">–36</text>
<text x="309" y="1398.2">–60</text>
<text x="309" y="1423.3">–130</text>
</g>
<rect x="423" y="1362" width="50" height="30.5" fill="none" stroke="#e8202a" stroke-width="2.4"/>
<rect x="423" y="1417.3" width="50" height="30.5" fill="none" stroke="#f7941d" stroke-width="2.4"/>
<polygon points="434.8,1473.6 461.4,1473.6 448.1,1492.5" fill="#000"/>
<g font-size="17" fill="#111">
<text x="489" y="1383">Ascending frame</text>
<text x="489" y="1438.5">Descending frame</text>
<text x="489" y="1489.5">Well location</text>
</g>
</svg>
</body></html>
